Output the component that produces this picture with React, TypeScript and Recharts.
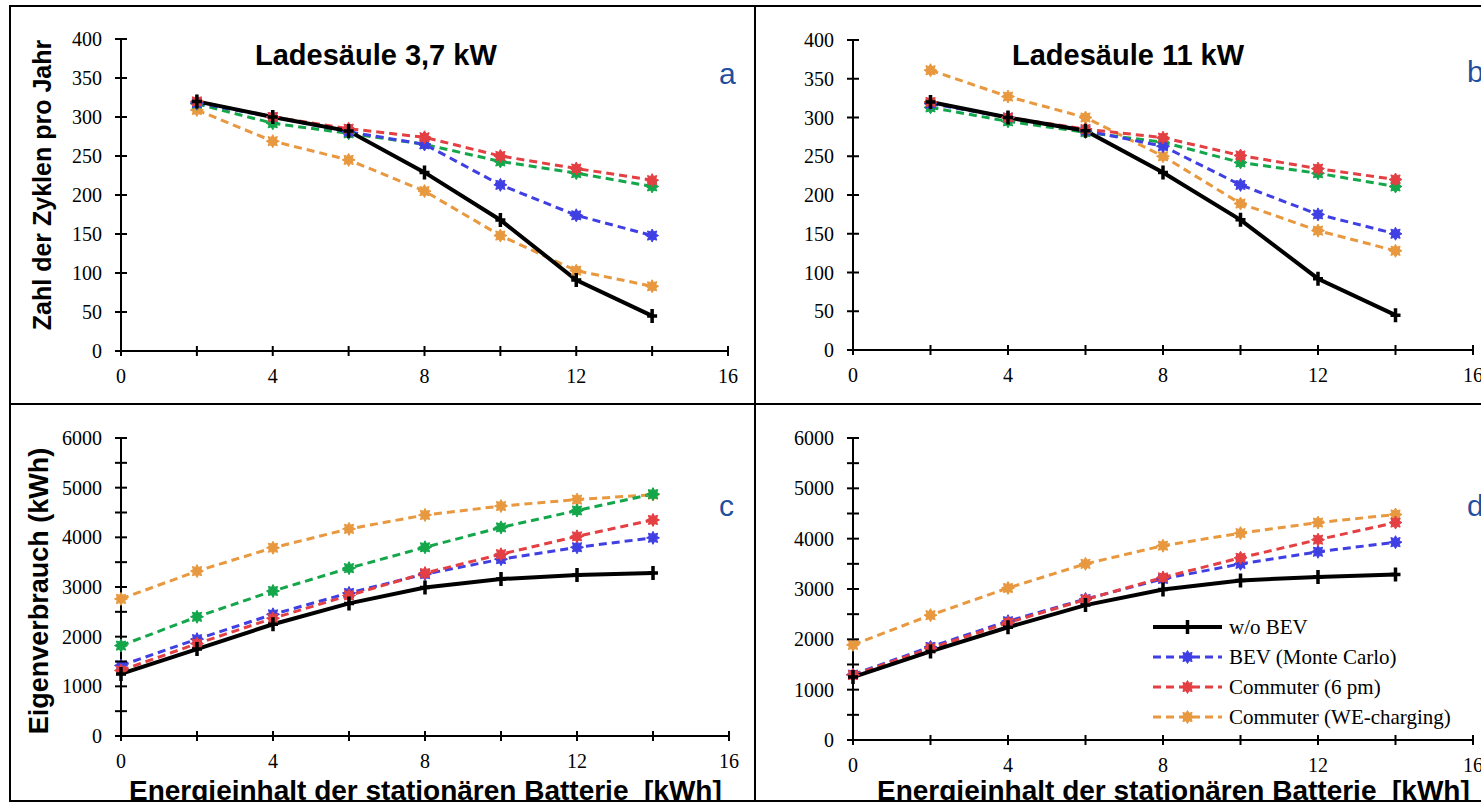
import { LineChart, Line, XAxis, YAxis, Legend } from "recharts";

// Colours
const BLACK = "#000000";
const BLUE = "#3f3fe4";
const RED = "#e43f42";
const GREEN = "#14a64a";
const ORANGE = "#e8983e";
const LETTER_BLUE = "#1f4f9e";

const SERIF = "'Liberation Serif', 'Times New Roman', serif";
const SANS = "'Liberation Sans', Arial, sans-serif";

// x values (battery capacity, kWh)
const capacityTop = [2, 4, 6, 8, 10, 12, 14];
const capacityBottom = [0, 2, 4, 6, 8, 10, 12, 14];
const xTicks = [0, 2, 4, 6, 8, 10, 12, 14, 16];
const cycleTicks = [0, 50, 100, 150, 200, 250, 300, 350, 400];
const energyTicks = [0, 500, 1000, 1500, 2000, 2500, 3000, 3500, 4000, 4500, 5000, 5500, 6000];

// a: cycles per year, 3.7 kW charger
const cyclesA_woBEV = [320, 300, 282, 229, 168, 91, 45];
const cyclesA_monteCarlo = [318, 300, 281, 265, 213, 174, 148];
const cyclesA_commuter6pm = [320, 300, 285, 274, 250, 234, 219];
const cyclesA_other = [317, 292, 279, 265, 243, 228, 211];
const cyclesA_weCharging = [309, 269, 245, 205, 148, 103, 83];

// b: cycles per year, 11 kW charger
const cyclesB_woBEV = [320, 300, 283, 229, 168, 92, 45];
const cyclesB_monteCarlo = [318, 300, 283, 263, 213, 175, 150];
const cyclesB_commuter6pm = [320, 300, 285, 274, 251, 234, 220];
const cyclesB_other = [313, 295, 281, 268, 242, 228, 211];
const cyclesB_weCharging = [361, 327, 300, 250, 189, 154, 128];

// c: self consumption (kWh), 3.7 kW charger
const energyC_woBEV = [1250, 1750, 2250, 2670, 2990, 3160, 3240, 3280];
const energyC_monteCarlo = [1420, 1950, 2450, 2880, 3260, 3560, 3800, 3990];
const energyC_commuter6pm = [1320, 1860, 2370, 2830, 3280, 3660, 4020, 4350];
const energyC_other = [1820, 2400, 2920, 3380, 3800, 4200, 4540, 4870];
const energyC_weCharging = [2760, 3320, 3790, 4170, 4450, 4630, 4760, 4860];

// d: self consumption (kWh), 11 kW charger
const energyD_woBEV = [1250, 1760, 2240, 2680, 2990, 3170, 3240, 3290];
const energyD_monteCarlo = [1300, 1850, 2360, 2800, 3200, 3500, 3740, 3930];
const energyD_commuter6pm = [1290, 1820, 2330, 2790, 3230, 3620, 3980, 4320];
const energyD_weCharging = [1890, 2480, 3020, 3500, 3860, 4110, 4320, 4480];

interface SeriesDef {
  key: string;
  name: string;
  color: string;
  dashed: boolean;
}

// drawing order: back to front
const SERIES: SeriesDef[] = [
  { key: "weCharging", name: "Commuter (WE-charging)", color: ORANGE, dashed: true },
  { key: "other", name: "", color: GREEN, dashed: true },
  { key: "monteCarlo", name: "BEV (Monte Carlo)", color: BLUE, dashed: true },
  { key: "commuter6pm", name: "Commuter (6 pm)", color: RED, dashed: true },
  { key: "woBEV", name: "w/o BEV", color: BLACK, dashed: false },
];

const LEGEND_ORDER = ["woBEV", "monteCarlo", "commuter6pm", "weCharging"];

function buildRows(xs: number[], cols: Record<string, number[]>) {
  return xs.map((x, i) => {
    const row: Record<string, number> = { x };
    Object.keys(cols).forEach((k) => {
      row[k] = cols[k][i];
    });
    return row;
  });
}

const dataA = buildRows(capacityTop, {
  woBEV: cyclesA_woBEV,
  monteCarlo: cyclesA_monteCarlo,
  commuter6pm: cyclesA_commuter6pm,
  other: cyclesA_other,
  weCharging: cyclesA_weCharging,
});
const dataB = buildRows(capacityTop, {
  woBEV: cyclesB_woBEV,
  monteCarlo: cyclesB_monteCarlo,
  commuter6pm: cyclesB_commuter6pm,
  other: cyclesB_other,
  weCharging: cyclesB_weCharging,
});
const dataC = buildRows(capacityBottom, {
  woBEV: energyC_woBEV,
  monteCarlo: energyC_monteCarlo,
  commuter6pm: energyC_commuter6pm,
  other: energyC_other,
  weCharging: energyC_weCharging,
});
const dataD = buildRows(capacityBottom, {
  woBEV: energyD_woBEV,
  monteCarlo: energyD_monteCarlo,
  commuter6pm: energyD_commuter6pm,
  weCharging: energyD_weCharging,
});

function Marker({ cx, cy, color }: { cx: number; cy: number; color: string }) {
  if (color === BLACK) {
    return (
      <path
        d={`M${cx},${cy - 7}V${cy + 7}M${cx - 5},${cy}H${cx + 5}`}
        stroke={BLACK}
        strokeWidth={3.5}
        fill="none"
      />
    );
  }
  const pts: string[] = [];
  for (let i = 0; i < 16; i++) {
    const r = i % 2 === 0 ? 6.5 : 4;
    const a = (Math.PI / 8) * i - Math.PI / 2;
    pts.push(`${cx + r * Math.cos(a)},${cy + r * Math.sin(a)}`);
  }
  return <polygon points={pts.join(" ")} fill={color} stroke={color} strokeWidth={1} />;
}

function dotFor(color: string) {
  return (props: any) => {
    const { cx, cy, index } = props;
    if (cx == null || cy == null) return <g key={`d-${index}`} />;
    return (
      <g key={`d-${index}`}>
        <Marker cx={cx} cy={cy} color={color} />
      </g>
    );
  };
}

const tickText = { fontFamily: SERIF, fontSize: 20 };

function XTick({ x, y, payload }: any) {
  const v = payload.value;
  return (
    <g>
      <line x1={x} x2={x} y1={y - 5} y2={y + 5} stroke={BLACK} strokeWidth={2} />
      {v % 4 === 0 && (
        <text x={x} y={y + 32} textAnchor="middle" style={tickText} fill={BLACK}>
          {v}
        </text>
      )}
    </g>
  );
}

function makeYTick(labelEvery: number) {
  return ({ x, y, payload }: any) => {
    const v = payload.value;
    return (
      <g>
        <line x1={x - 6} x2={x + 6} y1={y} y2={y} stroke={BLACK} strokeWidth={2} />
        {v % labelEvery === 0 && (
          <text x={x - 19} y={y + 7} textAnchor="end" style={tickText} fill={BLACK}>
            {v}
          </text>
        )}
      </g>
    );
  };
}

function LegendBox() {
  const rows = LEGEND_ORDER.map((k) => SERIES.find((s) => s.key === k)!);
  return (
    <svg width={330} height={122} style={{ display: "block" }}>
      {rows.map((s, i) => {
        const cy = 16 + i * 30;
        return (
          <g key={s.key}>
            <line
              x1={0}
              x2={69}
              y1={cy}
              y2={cy}
              stroke={s.color}
              strokeWidth={s.dashed ? 3 : 4}
              strokeDasharray={s.dashed ? "8 5" : undefined}
            />
            <Marker cx={34.5} cy={cy} color={s.color} />
            <text x={76} y={cy + 7} style={{ fontFamily: SERIF, fontSize: 21 }} fill={BLACK}>
              {s.name}
            </text>
          </g>
        );
      })}
    </svg>
  );
}

interface PanelProps {
  left: number;
  top: number;
  width: number;
  height: number;
  margin: { top: number; right: number; bottom: number; left: number };
  data: Record<string, number>[];
  yDomain: [number, number];
  yTicks: number[];
  yLabelEvery: number;
  withLegend?: boolean;
}

function Panel({ left, top, width, height, margin, data, yDomain, yTicks, yLabelEvery, withLegend }: PanelProps) {
  const keys = Object.keys(data[0]);
  return (
    <div style={{ position: "absolute", left, top }}>
      <LineChart width={width} height={height} data={data} margin={margin}>
        <XAxis
          dataKey="x"
          type="number"
          domain={[0, 16]}
          ticks={xTicks}
          interval={0}
          height={30}
          tickSize={0}
          tickMargin={0}
          tickLine={false}
          axisLine={{ stroke: BLACK, strokeWidth: 2 }}
          tick={<XTick />}
        />
        <YAxis
          type="number"
          domain={yDomain}
          ticks={yTicks}
          interval={0}
          width={60}
          tickSize={0}
          tickMargin={0}
          tickLine={false}
          axisLine={{ stroke: BLACK, strokeWidth: 2 }}
          tick={makeYTick(yLabelEvery)}
        />
        {SERIES.filter((s) => keys.includes(s.key)).map((s) => (
          <Line
            key={s.key}
            dataKey={s.key}
            name={s.name}
            stroke={s.color}
            strokeWidth={s.dashed ? 3 : 4}
            strokeDasharray={s.dashed ? "8 5" : undefined}
            dot={dotFor(s.color)}
            activeDot={false}
            isAnimationActive={false}
          />
        ))}
        {withLegend && (
          <Legend
            layout="vertical"
            align="center"
            verticalAlign="middle"
            content={() => <LegendBox />}
            wrapperStyle={{ left: 397, top: 206, width: 330, height: 122 }}
          />
        )}
      </LineChart>
    </div>
  );
}

export default function App() {
  return (
    <div
      style={{
        position: "absolute",
        left: 0,
        top: 0,
        width: 1481,
        height: 805,
        overflow: "hidden",
        background: "#ffffff",
      }}
    >
      <Panel
        left={11}
        top={7}
        width={743}
        height={396}
        margin={{ top: 32, right: 26, bottom: 22, left: 50 }}
        data={dataA}
        yDomain={[0, 400]}
        yTicks={cycleTicks}
        yLabelEvery={50}
      />
      <Panel
        left={756}
        top={7}
        width={800}
        height={396}
        margin={{ top: 33, right: 83, bottom: 23, left: 37 }}
        data={dataB}
        yDomain={[0, 400]}
        yTicks={cycleTicks}
        yLabelEvery={50}
      />
      <Panel
        left={11}
        top={405}
        width={743}
        height={395}
        margin={{ top: 33, right: 25, bottom: 34, left: 50 }}
        data={dataC}
        yDomain={[0, 6000]}
        yTicks={energyTicks}
        yLabelEvery={1000}
      />
      <Panel
        left={756}
        top={405}
        width={800}
        height={395}
        margin={{ top: 33, right: 83, bottom: 30, left: 37 }}
        data={dataD}
        yDomain={[0, 6000]}
        yTicks={energyTicks}
        yLabelEvery={1000}
        withLegend
      />

      {/* frame, titles and labels */}
      <svg
        width={1481}
        height={805}
        style={{ position: "absolute", left: 0, top: 0, pointerEvents: "none" }}
      >
        <defs>
          <clipPath id="frameClip">
            <rect x={0} y={0} width={1481} height={801} />
          </clipPath>
        </defs>
        <rect x={10} y={6} width={1600} height={795} fill="none" stroke={BLACK} strokeWidth={2} />
        <line x1={755} x2={755} y1={6} y2={801} stroke={BLACK} strokeWidth={2} />
        <line x1={10} x2={1481} y1={404} y2={404} stroke={BLACK} strokeWidth={2} />

        <text x={255} y={65} fontFamily={SANS} fontWeight="bold" fontSize={29} fill={BLACK}>
          Ladesäule 3,7 kW
        </text>
        <text x={1012} y={65} fontFamily={SANS} fontWeight="bold" fontSize={29} fill={BLACK}>
          Ladesäule 11 kW
        </text>

        <text x={719} y={84} fontFamily={SANS} fontSize={30} fill={LETTER_BLUE}>a</text>
        <text x={1467} y={82} fontFamily={SANS} fontSize={30} fill={LETTER_BLUE}>b</text>
        <text x={719} y={516} fontFamily={SANS} fontSize={30} fill={LETTER_BLUE}>c</text>
        <text x={1467} y={516} fontFamily={SANS} fontSize={30} fill={LETTER_BLUE}>d</text>

        <text
          x={51}
          y={185}
          transform="rotate(-90 51 185)"
          textAnchor="middle"
          fontFamily={SANS}
          fontWeight="bold"
          fontSize={25}
          fill={BLACK}
        >
          Zahl der Zyklen pro Jahr
        </text>
        <text
          x={48}
          y={591}
          transform="rotate(-90 48 591)"
          textAnchor="middle"
          fontFamily={SANS}
          fontWeight="bold"
          fontSize={27}
          fill={BLACK}
        >
          Eigenverbrauch (kWh)
        </text>

        <g clipPath="url(#frameClip)">
          <text x={129} y={800} fontFamily={SANS} fontWeight="bold" fontSize={28} fill={BLACK} xmlSpace="preserve">
            Energieinhalt der stationären Batterie{"\u00a0\u00a0"}[kWh]
          </text>
          <text x={877} y={800} fontFamily={SANS} fontWeight="bold" fontSize={28} fill={BLACK} xmlSpace="preserve">
            Energieinhalt der stationären Batterie{"\u00a0\u00a0"}[kWh]
          </text>
        </g>
      </svg>
    </div>
  );
}
